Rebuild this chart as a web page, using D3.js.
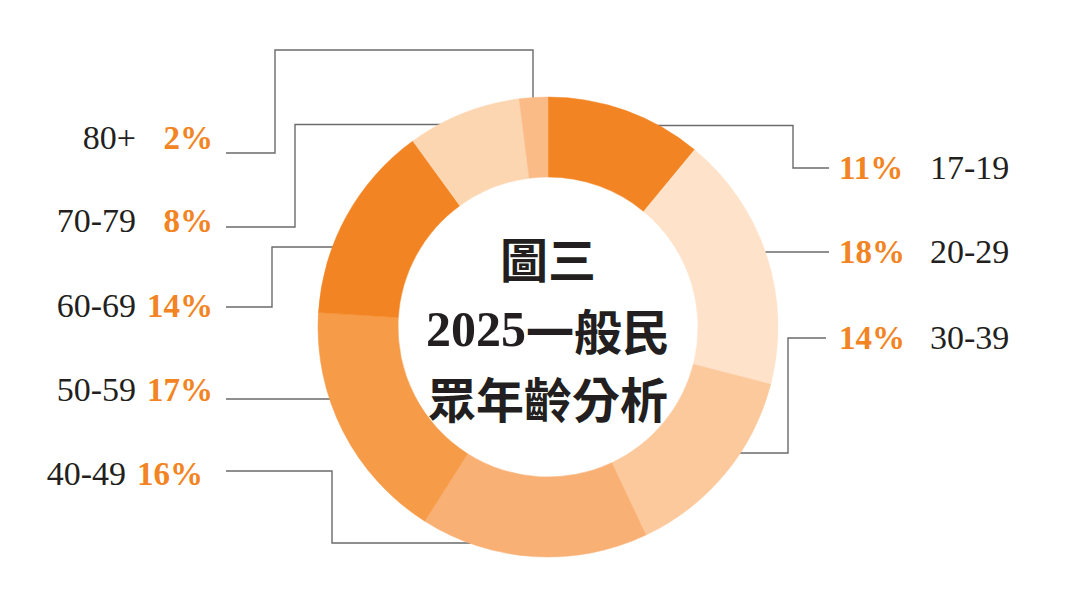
<!DOCTYPE html>
<html>
<head>
<meta charset="utf-8">
<script src="https://cdn.jsdelivr.net/npm/d3@7"></script>
<style>
  html, body { margin: 0; padding: 0; background: #fff; }
  svg { display: block; }
</style>
</head>
<body>
<script>
    //Width and height
    var w = 1070;
    var h = 602;

    //Data
    var categories = ["17-19", "20-29", "30-39", "40-49", "50-59", "60-69", "70-79", "80+"];
    var values = [11, 18, 14, 16, 17, 14, 8, 2];
    var sliceColors = ["#f28423", "#fee2c9", "#fcc99c", "#f9b075", "#f69b48", "#f28423", "#fcd6b1", "#fbbb87"];
    var titleLines = ["圖三", "2025一般民", "眾年齡分析"];

    //donut geometry
    var cx = 548, cy = 327;
    var outerR = 230, innerR = 150;

    //leader routes: from the label end towards the ring, last leg meets the ring
    // enter: "h" = last leg horizontal, "v" = last leg vertical
    var leaders = [
        { side: "right", textY: 179, pts: [[829, 168], [793, 168], [793, 125.5]], enter: "h" },
        { side: "right", textY: 263, pts: [[829, 252], [740, 252]], enter: "h" },
        { side: "right", textY: 349, pts: [[826, 338], [788, 338], [788, 453]], enter: "h" },
        { side: "left", textY: 485, nudge: -10, pts: [[226, 471], [332, 471], [332, 543]], enter: "h" },
        { side: "left", textY: 401, pts: [[226, 399], [340, 399]], enter: "h" },
        { side: "left", textY: 317, pts: [[226, 307], [272, 307], [272, 247]], enter: "h" },
        { side: "left", textY: 232, pts: [[226, 227], [295, 227], [295, 124.5]], enter: "h" },
        { side: "left", textY: 149, pts: [[226, 153], [275, 153], [275, 50], [533, 50]], enter: "v" }
    ];

    //Create SVG element
    var svg = d3.select("body")
                .append("svg")
                .attr("width", w)
                .attr("height", h);

    var pie = d3.pie().sort(null).value(function(d) { return d; });
    var arcs = pie(values);

    var arcGenerator = d3.arc()
        .innerRadius(innerR)
        .outerRadius(outerR);

    //leader lines go first, the ring covers their ends
    var line = d3.line();
    svg.append("g")
        .selectAll("path")
        .data(leaders)
        .enter()
        .append("path")
        .attr("d", function(d) {
            var pts = d.pts.slice();
            var last = pts[pts.length - 1];
            if (d.enter === "h") {
                var dy = last[1] - cy;
                var dx = Math.sqrt(outerR * outerR - dy * dy);
                var dir = last[0] < cx ? -1 : 1;
                pts.push([cx + dir * dx - dir * 2, last[1]]);
            } else {
                var ddx = last[0] - cx;
                pts.push([last[0], cy - Math.sqrt(outerR * outerR - ddx * ddx) + 2]);
            }
            return line(pts);
        })
        .attr("fill", "none")
        .attr("stroke", "#6b6b6b")
        .attr("stroke-width", 1.4);

    //the ring
    var ring = svg.append("g")
        .attr("transform", "translate(" + cx + "," + cy + ")");

    ring.selectAll("path")
        .data(arcs)
        .enter()
        .append("path")
        .attr("d", arcGenerator)
        .attr("fill", function(d, i) { return sliceColors[i]; })
        .attr("stroke", function(d, i) { return sliceColors[i]; })
        .attr("stroke-width", 0.5);

    //labels
    var labels = svg.append("g")
        .selectAll("g")
        .data(categories)
        .enter()
        .append("g");

    labels.append("text")
        .attr("class", "pct")
        .attr("x", function(d, i) { return leaders[i].side === "right" ? 839 : 213 + (leaders[i].nudge || 0); })
        .attr("y", function(d, i) { return leaders[i].textY; })
        .attr("text-anchor", function(d, i) { return leaders[i].side === "right" ? "start" : "end"; })
        .attr("font-family", "'Liberation Serif', 'DejaVu Serif', serif")
        .attr("font-weight", "bold")
        .attr("font-size", 33)
        .attr("fill", "#f28423")
        .text(function(d, i) { return values[i] + "%"; });

    labels.append("text")
        .attr("class", "cat")
        .attr("x", function(d, i) { return leaders[i].side === "right" ? 930 : 136 + (leaders[i].nudge || 0); })
        .attr("y", function(d, i) { return leaders[i].textY; })
        .attr("text-anchor", function(d, i) { return leaders[i].side === "right" ? "start" : "end"; })
        .attr("font-family", "'Liberation Serif', 'DejaVu Serif', serif")
        .attr("font-size", 34)
        .attr("fill", "#231f20")
        .text(function(d) { return d; });

    //title in the middle
    var titleY = [257, 329, 397];
    var title = svg.append("g");
    titleLines.forEach(function(t, i) {
        var txt = title.append("text")
            .attr("x", cx)
            .attr("y", titleY[i])
            .attr("text-anchor", "middle")
            .attr("dominant-baseline", "central")
            .attr("font-family", "'Noto Sans CJK TC', 'Noto Sans CJK SC', sans-serif")
            .attr("font-weight", "bold")
            .attr("font-size", 48)
            .attr("fill", "#231f20");
        var m = t.match(/^(\d+)(.*)$/);
        if (m) {
            txt.append("tspan")
                .attr("font-family", "'Liberation Serif', serif")
                .attr("font-size", 50)
                .text(m[1]);
            txt.append("tspan").text(m[2]);
        } else {
            txt.text(t);
        }
    });
</script>
</body>
</html>
